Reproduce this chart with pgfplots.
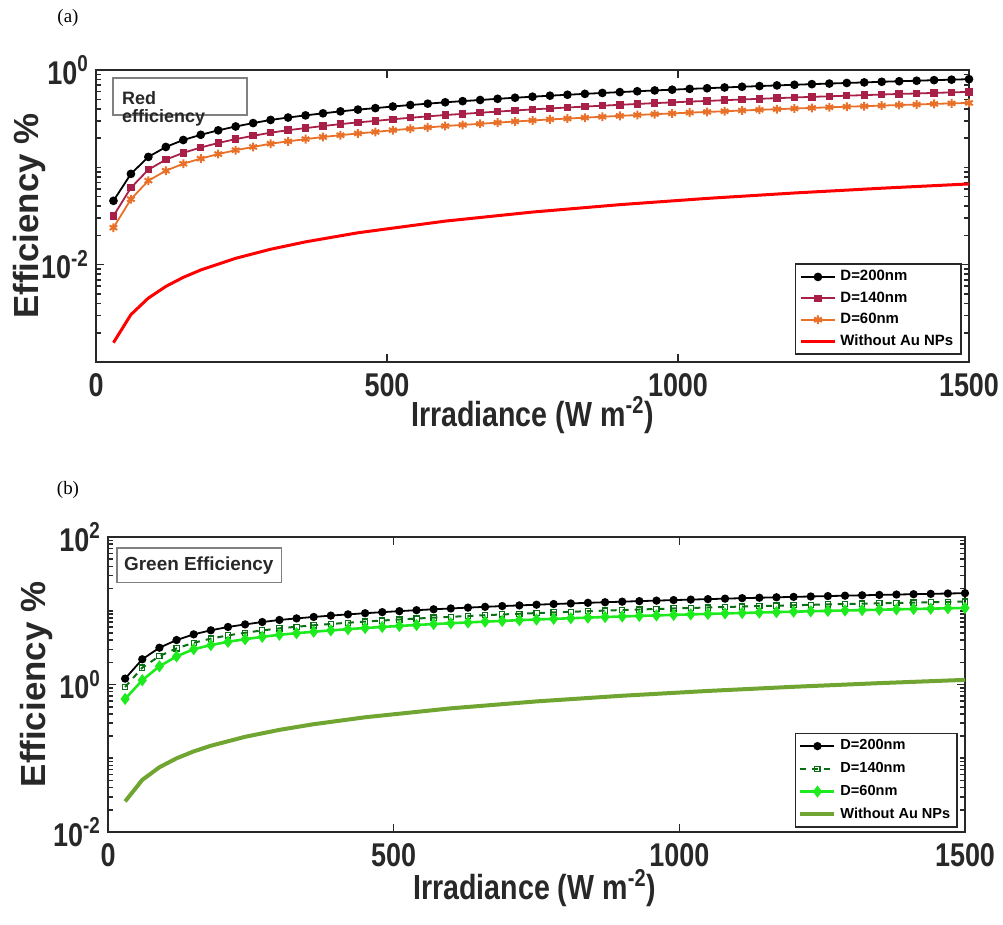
\documentclass[border=0pt]{standalone}
\usepackage{pgfplots}
\usepackage{pgfplotstable}
\pgfplotsset{compat=1.18}
\usepackage{fontspec}
\setmainfont{Liberation Sans}
\newfontfamily\narrowfont{Liberation Sans}[FakeStretch=0.82]
\newfontfamily\seriffont{Liberation Serif}
\definecolor{cmag}{RGB}{168,32,72}
\definecolor{corange}{RGB}{232,112,40}
\definecolor{cdgreen}{RGB}{10,110,20}
\definecolor{cgreen}{RGB}{30,235,30}
\definecolor{colive}{RGB}{112,165,50}
\definecolor{caxis}{RGB}{40,40,40}

\pgfplotstableread{
x b m o
30 0.0453 0.0317 0.0240
60 0.0857 0.0617 0.0471
90 0.128 0.0947 0.0730
120 0.162 0.120 0.0923
150 0.191 0.141 0.109
180 0.216 0.160 0.123
210 0.240 0.178 0.137
240 0.263 0.195 0.150
270 0.285 0.211 0.162
300 0.307 0.227 0.175
330 0.325 0.241 0.185
360 0.342 0.253 0.195
390 0.359 0.266 0.205
420 0.376 0.278 0.214
450 0.392 0.290 0.223
480 0.406 0.300 0.231
510 0.422 0.312 0.241
540 0.437 0.323 0.249
570 0.451 0.334 0.257
600 0.466 0.345 0.266
630 0.479 0.354 0.273
660 0.492 0.364 0.280
690 0.506 0.374 0.288
720 0.519 0.384 0.296
750 0.532 0.394 0.303
780 0.545 0.403 0.311
810 0.557 0.412 0.317
840 0.569 0.421 0.324
870 0.581 0.430 0.331
900 0.593 0.439 0.338
930 0.605 0.448 0.345
960 0.617 0.457 0.352
990 0.628 0.465 0.358
1020 0.640 0.474 0.365
1050 0.650 0.481 0.371
1080 0.662 0.490 0.377
1110 0.673 0.498 0.384
1140 0.684 0.506 0.390
1170 0.695 0.514 0.396
1200 0.705 0.522 0.402
1230 0.716 0.530 0.408
1260 0.726 0.537 0.414
1290 0.736 0.545 0.420
1320 0.746 0.552 0.425
1350 0.757 0.560 0.431
1380 0.767 0.568 0.437
1410 0.776 0.574 0.442
1440 0.787 0.582 0.449
1470 0.796 0.589 0.454
1500 0.805 0.596 0.459
}\redtab

\pgfplotstableread{
x b d g
30 1.202 0.926 0.637
60 2.198 1.692 1.143
90 3.155 2.429 1.767
120 4.009 3.087 2.405
150 4.786 3.685 3.015
180 5.433 4.183 3.423
210 6.026 4.640 3.796
240 6.531 5.029 4.115
270 7.031 5.414 4.430
300 7.499 5.774 4.724
330 7.880 6.068 4.964
360 8.245 6.349 5.194
390 8.594 6.617 5.414
420 8.933 6.878 5.628
450 9.260 7.130 5.834
480 9.575 7.373 6.032
510 9.881 7.608 6.225
540 10.18 7.839 6.413
570 10.47 8.062 6.596
600 10.75 8.278 6.773
630 11.03 8.493 6.949
660 11.30 8.701 7.119
690 11.57 8.909 7.289
720 11.82 9.101 7.447
750 12.08 9.302 7.610
780 12.33 9.494 7.768
810 12.57 9.679 7.919
840 12.81 9.864 8.070
870 13.05 10.05 8.222
900 13.28 10.23 8.366
930 13.51 10.40 8.511
960 13.73 10.57 8.650
990 13.95 10.74 8.789
1020 14.17 10.91 8.927
1050 14.38 11.07 9.059
1080 14.60 11.24 9.198
1110 14.81 11.40 9.330
1140 15.02 11.57 9.463
1170 15.22 11.72 9.589
1200 15.42 11.87 9.715
1230 15.62 12.03 9.841
1260 15.82 12.18 9.967
1290 16.01 12.33 10.09
1320 16.21 12.48 10.21
1350 16.40 12.63 10.33
1380 16.59 12.77 10.45
1410 16.77 12.91 10.57
1440 16.95 13.05 10.68
1470 17.14 13.20 10.80
1500 17.32 13.34 10.91
}\greentab

\pgfplotsset{
  myaxis/.style={
    scale only axis,
    anchor=south west,
    xmin=0, xmax=1500,
    xtick={0,500,1000,1500},
    xticklabels={0,500,1000,1500},
    axis line style={line width=1.2bp, caxis},
    every tick/.style={caxis, line width=0.8bp},
    major tick length=4bp,
    minor tick length=2.3bp,
    tick label style={font=\narrowfont\bfseries\fontsize{16.5}{16.5}\selectfont, text=caxis},
    xticklabel style={yshift=-2bp},
    xlabel={Irradiance (W m\textsuperscript{-2})},
    ylabel={Efficiency \%},
    xlabel style={font=\narrowfont\bfseries\fontsize{17.5}{18}\selectfont, text=caxis,
      at={(axis description cs:0.5,0)}, anchor=center, yshift=-26.5bp},
    ylabel style={font=\bfseries\fontsize{17.5}{18}\selectfont, text=caxis},
    legend cell align=left,
  }
}

\begin{document}
\begin{tikzpicture}
\useasboundingbox (0bp,0bp) rectangle (501.5bp,-462.5bp);
\node[font=\seriffont\fontsize{9.5}{10}\selectfont] at (34bp,-9bp) {(a)};
\node[font=\seriffont\fontsize{9.5}{10}\selectfont] at (34bp,-245bp) {(b)};

\begin{axis}[ymode=log, myaxis,
  at={(48bp,-181bp)}, width=436.5bp, height=146bp,
  ymin=1e-3, ymax=1,
  ytick={0.01,1},
  yticklabels={10\textsuperscript{-2},10\textsuperscript{0}},
  minor ytick={0.002,0.003,0.004,0.005,0.006,0.007,0.008,0.009,0.02,0.03,0.04,0.05,0.06,0.07,0.08,0.09,0.1,0.2,0.3,0.4,0.5,0.6,0.7,0.8,0.9},
  ylabel style={at={(axis description cs:-0.076,0.5)}, anchor=center},
  legend style={at={(1,0)}, anchor=south east, xshift=-3.5bp, yshift=3.5bp,
    font=\bfseries\fontsize{7.5}{7.5}\selectfont, draw=caxis, line width=0.8bp,
    inner xsep=2bp, inner ysep=1bp, row sep=0bp},
]
\draw[gray, line width=0.6bp, fill=white] (axis description cs:0.0195,0.973) rectangle (axis description cs:0.173,0.846);
\node[anchor=west, font=\bfseries\fontsize{9}{9}\selectfont, text=caxis] at (axis description cs:0.022,0.905) {Red};
\node[anchor=west, font=\bfseries\fontsize{9}{9}\selectfont, text=caxis] at (axis description cs:0.022,0.835) {efficiency};

\addplot[black, line width=0.9bp, mark=*, mark size=1.7bp] table[x=x,y=b] {\redtab};
\addlegendentry{D=200nm}
\addplot[cmag, line width=0.9bp, mark=square*, mark size=1.4bp] table[x=x,y=m] {\redtab};
\addlegendentry{D=140nm}
\addplot[corange, line width=0.9bp, mark=asterisk, mark size=2.2bp, mark options={line width=1bp}] table[x=x,y=o] {\redtab};
\addlegendentry{D=60nm}
\addplot[red, line width=1.5bp] coordinates {(30,0.00158)(60,0.00307)(90,0.00454)(120,0.00598)(150,0.00741)(180,0.00882)(240,0.01163)(300,0.01441)(360,0.01716)(450,0.02127)(600,0.02803)(750,0.03473)(900,0.04137)(1050,0.04797)(1200,0.05453)(1350,0.06105)(1500,0.06756)};
\addlegendentry{Without Au NPs}
\end{axis}

\begin{axis}[ymode=log, myaxis,
  at={(54bp,-416bp)}, width=428.5bp, height=147.5bp,
  ymin=1e-2, ymax=100,
  ytick={0.01,1,100},
  yticklabels={10\textsuperscript{-2},10\textsuperscript{0},10\textsuperscript{2}},
  minor ytick={0.02,0.03,0.04,0.05,0.06,0.07,0.08,0.09,0.1,0.2,0.3,0.4,0.5,0.6,0.7,0.8,0.9,2,3,4,5,6,7,8,9,10,20,30,40,50,60,70,80,90},
  ylabel style={at={(axis description cs:-0.083,0.5)}, anchor=center},
  xlabel style={at={(axis description cs:0.498,0)}, yshift=-1.5bp},
  legend style={at={(1,0)}, anchor=south east, xshift=-3.5bp, yshift=2bp,
    font=\bfseries\fontsize{7.3}{7.3}\selectfont, draw=caxis, line width=0.8bp,
    inner xsep=1.5bp, inner ysep=1bp, row sep=0.8bp},
]
\draw[gray, line width=0.6bp, fill=white] (axis description cs:0.0105,0.963) rectangle (axis description cs:0.202,0.847);
\node[font=\bfseries\fontsize{9.5}{9.5}\selectfont, text=caxis] at (axis description cs:0.106,0.902) {Green Efficiency};

\addplot[black, line width=0.9bp, mark=*, mark size=1.6bp] table[x=x,y=b] {\greentab};
\addlegendentry{D=200nm}
\addplot[cdgreen, line width=1bp, dashed, mark=square, mark size=1.3bp, mark options={solid, line width=0.6bp}] table[x=x,y=d] {\greentab};
\addlegendentry{D=140nm}
\addplot[cgreen, line width=1.3bp, mark=diamond*, mark size=2bp] table[x=x,y=g] {\greentab};
\addlegendentry{D=60nm}
\addplot[colive, line width=2bp] coordinates {(30,0.026)(60,0.0509)(90,0.0755)(120,0.0998)(150,0.1239)(180,0.1478)(240,0.1954)(300,0.2427)(360,0.2896)(450,0.3596)(600,0.4753)(750,0.5902)(900,0.7043)(1050,0.8180)(1200,0.9311)(1350,1.0437)(1500,1.156)};
\addlegendentry{Without Au NPs}
\end{axis}
\end{tikzpicture}
\end{document}
